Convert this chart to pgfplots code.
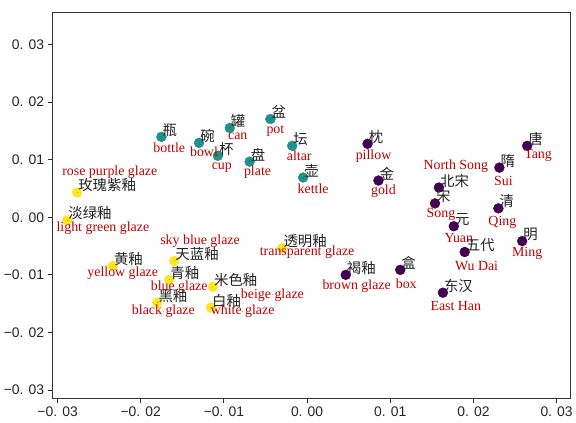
\documentclass[border=0pt]{standalone}
\usepackage{fontspec}
\setmainfont{Liberation Sans}
\newfontfamily\cjk{Noto Sans CJK SC}
\newfontfamily\serifen{Liberation Serif}
\usepackage{pgfplots}
\usepackage{pgfplotstable}
\pgfplotsset{compat=1.18}
\definecolor{vteal}{RGB}{33,145,140}
\definecolor{vpurple}{RGB}{68,1,84}
\definecolor{vyellow}{RGB}{253,231,37}
\definecolor{lblred}{RGB}{192,0,0}
\definecolor{cjkgray}{RGB}{34,34,34}

\pgfplotstableread[col sep=comma]{
x,y,label
-0.01752,0.01397,瓶
-0.01299,0.01293,碗
-0.01073,0.01069,杯
-0.00930,0.01552,罐
-0.00691,0.00966,盘
-0.00441,0.01707,盆
-0.00179,0.01241,坛
-0.00048,0.00690,壶
}\objects

\pgfplotstableread[col sep=comma]{
x,y,label
0.00727,0.01276,枕
0.00858,0.00638,金
0.01585,0.00517,北宋
0.01538,0.00241,宋
0.02312,0.00862,隋
0.02646,0.01241,唐
0.02300,0.00155,清
0.01764,-0.00155,元
0.02586,-0.00414,明
0.01895,-0.00603,五代
0.00465,-0.01000,褐釉
0.01120,-0.00914,盒
0.01633,-0.01310,东汉
}\dynasties

\pgfplotstableread[col sep=comma]{
x,y,label
-0.02765,0.00431,玫瑰紫釉
-0.02884,-0.00052,淡绿釉
-0.02336,-0.00845,黄釉
-0.01597,-0.00759,天蓝釉
-0.01657,-0.01086,青釉
-0.01132,-0.01207,米色釉
-0.01800,-0.01483,黑釉
-0.01156,-0.01569,白釉
-0.00298,-0.00534,透明釉
}\glazes

\pgfplotstableread[col sep=comma]{
x,y,label
-0.01657,0.01207,bottle
-0.01240,0.01138,bowl
-0.01025,0.00862,cup
-0.00834,0.01414,can
-0.00596,0.00776,plate
-0.00381,0.01500,pot
-0.00095,0.01069,altar
0.00072,0.00500,kettle
0.00799,0.01069,pillow
0.00918,0.00448,gold
0.01788,0.00879,North Song
0.02360,0.00638,Sui
0.02777,0.01069,Tang
0.01609,0.00052,Song
0.02348,-0.00086,Qing
0.01824,-0.00362,Yuan
0.02646,-0.00621,Ming
0.02038,-0.00845,Wu Dai
0.00596,-0.01190,brown glaze
0.01192,-0.01155,box
0.01788,-0.01534,East Han
0.00000,-0.00603,transparent glaze
-0.02372,0.00776,rose purple glaze
-0.02455,-0.00190,light green glaze
-0.01287,-0.00414,sky blue glaze
-0.02217,-0.00966,yellow glaze
-0.01538,-0.01207,blue glaze
-0.00417,-0.01345,beige glaze
-0.01728,-0.01638,black glaze
-0.00775,-0.01638,white glaze
}\english

\begin{document}
\begin{tikzpicture}
\begin{axis}[
  scale only axis,
  width=522pt, height=388pt,
  xmin=-0.0306, xmax=0.0317,
  ymin=-0.0314, ymax=0.0355,
  scaled ticks=false,
  xtick={-0.03,-0.02,-0.01,0,0.01,0.02,0.03},
  xticklabels={−0. 03,−0. 02,−0. 01,0. 00,0. 01,0. 02,0. 03},
  ytick={-0.03,-0.02,-0.01,0,0.01,0.02,0.03},
  yticklabels={−0. 03,−0. 02,−0. 01,0. 00,0. 01,0. 02,0. 03},
  tick align=outside,
  xtick pos=bottom, ytick pos=left,
  major tick length=5pt,
  tick style={draw=black!80, line width=0.9pt},
  axis line style={draw=black!80, line width=1pt},
  ticklabel style={font=\fontsize{14}{14}\selectfont, text=black!85},
  clip=false,
  every node near coord/.style={inner sep=0pt},
]
% points
\addplot[only marks, mark=*, mark size=5pt, mark options={draw=vteal, fill=vteal}] table[x=x, y=y] {\objects};
\addplot[only marks, mark=*, mark size=5pt, mark options={draw=vpurple, fill=vpurple}] table[x=x, y=y] {\dynasties};
\addplot[only marks, mark=*, mark size=5pt, mark options={draw=vyellow, fill=vyellow}] table[x=x, y=y] {\glazes};
% English labels
\addplot[only marks, mark=*, mark size=0.01pt, mark options={draw=none, fill=none},
  point meta=explicit symbolic, nodes near coords,
  nodes near coords style={anchor=center, font=\serifen\fontsize{14}{14}\selectfont, text=lblred, inner sep=0pt}]
  table[x=x, y=y, meta=label] {\english};
% Chinese labels
\addplot[only marks, mark=*, mark size=0.01pt, mark options={draw=none, fill=none},
  point meta=explicit symbolic, nodes near coords,
  nodes near coords style={anchor=base west, xshift=1pt, yshift=1.5pt, font=\cjk\fontsize{14.5}{14.5}\selectfont, text=cjkgray, inner sep=0pt}]
  table[x=x, y=y, meta=label] {\objects};
\addplot[only marks, mark=*, mark size=0.01pt, mark options={draw=none, fill=none},
  point meta=explicit symbolic, nodes near coords,
  nodes near coords style={anchor=base west, xshift=1pt, yshift=1.5pt, font=\cjk\fontsize{14.5}{14.5}\selectfont, text=cjkgray, inner sep=0pt}]
  table[x=x, y=y, meta=label] {\dynasties};
\addplot[only marks, mark=*, mark size=0.01pt, mark options={draw=none, fill=none},
  point meta=explicit symbolic, nodes near coords,
  nodes near coords style={anchor=base west, xshift=1pt, yshift=1.5pt, font=\cjk\fontsize{14.5}{14.5}\selectfont, text=cjkgray, inner sep=0pt}]
  table[x=x, y=y, meta=label] {\glazes};
\end{axis}
\path ([shift={(-53pt,-25pt)}]current axis.south west) rectangle ([shift={(1pt,13pt)}]current axis.north east);
\end{tikzpicture}
\end{document}
